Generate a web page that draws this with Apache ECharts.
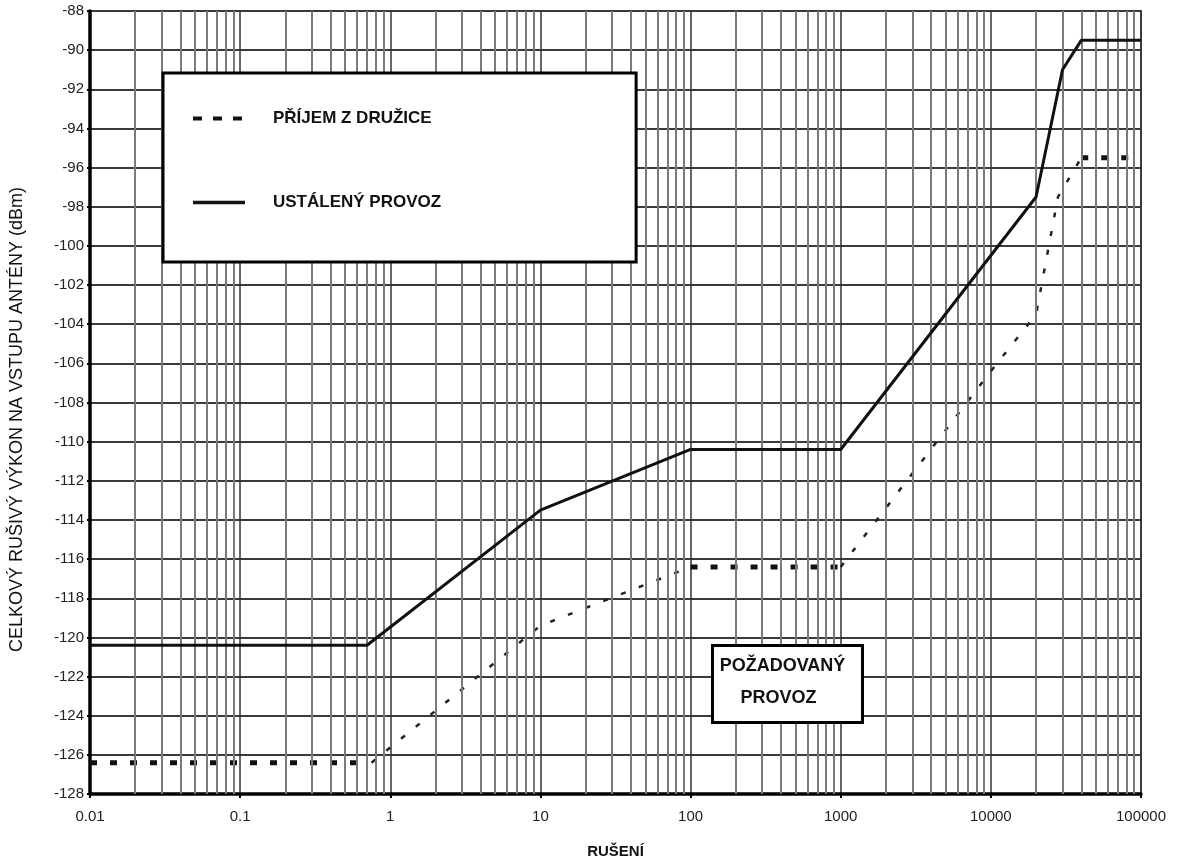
<!DOCTYPE html>
<html>
<head>
<meta charset="utf-8">
<title>Celkový rušivý výkon</title>
<script src="https://cdn.jsdelivr.net/npm/echarts@6/dist/echarts.min.js"></script>
<style>
  html, body { margin: 0; padding: 0; background: #fff; }
  #chart { width: 1180px; height: 864px; }
</style>
</head>
<body>
<div id="chart"></div>
<script>
// tick labels
const xTickValues = [0.01, 0.1, 1, 10, 100, 1000, 10000, 100000];
const xTickLabels = ["0.01", "0.1", "1", "10", "100", "1000", "10000", "100000"];

// ustálený provoz (solid)
const steadyOp = [
  [0.01, -120.4], [0.7, -120.4], [10, -113.5], [100, -110.4], [1000, -110.4],
  [20000, -97.5], [30000, -91], [40000, -89.5], [100000, -89.5]
];

// příjem z družice: thick dashed flat parts
const satFlatLow = [[0.01, -126.4], [0.72, -126.4]];
const satFlatMid = [[100, -116.4], [1000, -116.4]];
const satFlatHigh = [[40000, -95.5], [100000, -95.5]];

// příjem z družice: thin dotted slopes
const satSlopeLow = [[0.75, -126.4], [10, -119.4], [100, -116.4]];
const satSlopeHigh = [[1000, -116.4], [10000, -106.4], [20000, -103.5], [28000, -97.5], [40000, -95.5]];

const SAT_NAME = "PŘÍJEM Z DRUŽICE";
const STEADY_NAME = "USTÁLENÝ PROVOZ";

// minor log grid lines (2..9 per decade)
const minorGridX = [];
for (let k = -2; k <= 4; k++) {
  for (let m = 2; m <= 9; m++) {
    minorGridX.push(m * Math.pow(10, k));
  }
}

const chart = echarts.init(document.getElementById("chart"));

const thickDash = { color: "#111", width: 5, type: [7, 13] };
const thinDot = { color: "#222", width: 2.5, type: [5, 14] };

function flatSeries(data) {
  return {
    name: SAT_NAME,
    type: "line",
    data: data,
    symbol: "none",
    color: "#111",
    lineStyle: thickDash,
    z: 4
  };
}

function slopeSeries(data) {
  return {
    name: "slope",
    type: "line",
    data: data,
    symbol: "none",
    color: "#222",
    lineStyle: thinDot,
    z: 4
  };
}

chart.setOption({
  animation: false,
  backgroundColor: "#fff",
  textStyle: { fontFamily: "Liberation Sans, Arial, sans-serif" },
  grid: {
    left: 83, right: 39, top: 11, bottom: 63,
    show: true, borderColor: "#555", borderWidth: 2
  },
  legend: {
    left: 163,
    top: 73,
    orient: "vertical",
    backgroundColor: "#fff",
    borderColor: "#000",
    borderWidth: 3,
    borderRadius: 0,
    padding: [37, 195, 51, 28],
    itemGap: 67,
    itemWidth: 52,
    itemHeight: 14,
    selectedMode: false,
    z: 10,
    itemStyle: { opacity: 0 },
    textStyle: {
      fontSize: 17, fontWeight: "bold", color: "#111",
      padding: [0, 0, 0, 23]
    },
    data: [
      { name: SAT_NAME, lineStyle: { color: "#111", width: 4, type: [9, 11] } },
      { name: STEADY_NAME, lineStyle: { color: "#111", width: 3.5 } }
    ]
  },
  xAxis: {
    type: "log",
    logBase: 10,
    min: 0.01,
    max: 100000,
    splitNumber: 7,
    name: "RUŠENÍ",
    nameLocation: "middle",
    nameGap: 50,
    nameTextStyle: { fontSize: 15, fontWeight: "bold", color: "#111" },
    axisLine: { lineStyle: { color: "#000", width: 3.5 } },
    axisTick: { show: true, length: 4, lineStyle: { color: "#000", width: 2 } },
    axisLabel: {
      fontSize: 15, color: "#222", margin: 15,
      formatter: (v) => xTickLabels[Math.round(Math.log10(v)) + 2] ?? ""
    },
    splitLine: { show: true, lineStyle: { color: "#333", width: 1.5 } }
  },
  yAxis: {
    type: "value",
    min: -128,
    max: -88,
    interval: 2,
    name: "CELKOVÝ RUŠIVÝ VÝKON NA VSTUPU ANTÉNY (dBm)",
    nameLocation: "middle",
    nameGap: 64,
    nameTextStyle: { fontSize: 18, color: "#111", padding: [0, 34, 0, 0] },
    axisLine: { show: true, lineStyle: { color: "#000", width: 3.5 } },
    axisTick: { show: true, length: 3, lineStyle: { color: "#000", width: 2 } },
    axisLabel: { fontSize: 15, color: "#222", margin: 6 },
    splitLine: { show: true, lineStyle: { color: "#3a3a3a", width: 2 } }
  },
  series: [
    {
      name: "grid",
      type: "line",
      data: [],
      z: 1,
      silent: true,
      markLine: {
        silent: true,
        symbol: "none",
        label: { show: false },
        lineStyle: { color: "#7a7a7a", width: 2, type: "solid" },
        data: minorGridX.map((v) => ({ xAxis: v }))
      }
    },
    flatSeries(satFlatLow),
    flatSeries(satFlatMid),
    flatSeries(satFlatHigh),
    slopeSeries(satSlopeLow),
    slopeSeries(satSlopeHigh),
    {
      name: STEADY_NAME,
      type: "line",
      data: steadyOp,
      symbol: "none",
      color: "#111",
      lineStyle: { color: "#111", width: 3 },
      z: 5
    }
  ],
  graphic: [
    {
      type: "group",
      left: 711,
      top: 644,
      z: 100,
      children: [
        {
          type: "rect",
          shape: { x: 0, y: 0, width: 150, height: 77 },
          style: { fill: "#fff", stroke: "#000", lineWidth: 3 },
          z: 100
        },
        {
          type: "text",
          x: 70,
          y: 21,
          z: 101,
          style: {
            text: "POŽADOVANÝ",
            font: "bold 18px 'Liberation Sans', Arial, sans-serif",
            fill: "#111",
            textAlign: "center",
            textVerticalAlign: "middle"
          }
        },
        {
          type: "text",
          x: 66,
          y: 53,
          z: 101,
          style: {
            text: "PROVOZ",
            font: "bold 18px 'Liberation Sans', Arial, sans-serif",
            fill: "#111",
            textAlign: "center",
            textVerticalAlign: "middle"
          }
        }
      ]
    }
  ]
});
</script>
</body>
</html>
